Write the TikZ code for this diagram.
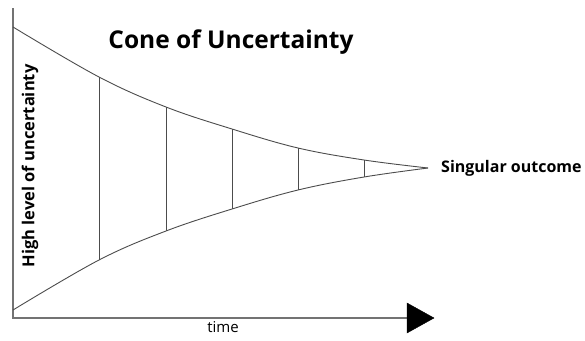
\documentclass[tikz,border=0pt]{standalone}
\usepackage{fontspec}
\setmainfont{Open Sans}
\begin{document}
\begin{tikzpicture}[x=1pt,y=-1pt,
  axisline/.style={draw=black!55,line width=1.4pt},
  coneline/.style={draw=black!70,line width=0.9pt},
  divline/.style={draw=black!70,line width=0.9pt},
  lbl/.style={font=\bfseries\fontsize{16}{18}\selectfont,inner sep=0pt}]
\useasboundingbox (0,0) rectangle (585,340);
% axes
\coordinate (origin) at (13,318);
\coordinate (ytop) at (13,8);
\coordinate (xend) at (408,318);
\draw[axisline] (ytop) -- (origin) -- (xend);
\filldraw[black] (407,303) -- (434,318) -- (407,333) -- cycle;
% cone
\coordinate (apex) at (428,168);
\coordinate (u0) at (13,27);   \coordinate (l0) at (13,310);
\coordinate (u1) at (99,77);   \coordinate (l1) at (99,260);
\coordinate (u2) at (166,107); \coordinate (l2) at (166,231);
\coordinate (u3) at (232,129); \coordinate (l3) at (232,209);
\coordinate (u4) at (298,148); \coordinate (l4) at (298,190);
\coordinate (u5) at (364,160); \coordinate (l5) at (364,177);
\draw[coneline] plot[smooth,tension=0.6] coordinates {(u0) (u1) (u2) (u3) (u4) (u5) (apex)};
\draw[coneline] plot[smooth,tension=0.6] coordinates {(l0) (l1) (l2) (l3) (l4) (l5) (apex)};
\foreach \i in {1,...,5} \draw[divline] (u\i) -- (l\i);
% texts
\node[lbl,font=\bfseries\fontsize{24.5}{28}\selectfont] (title) at (231,42) {Cone of Uncertainty};
\node[lbl,anchor=west] (outcome) at (441,168) {Singular outcome};
\node[lbl,rotate=90,font=\bfseries\fontsize{16.5}{19}\selectfont] (ylab) at (30,166) {High level of uncertainty};
\node[inner sep=0pt,font=\fontsize{15}{17}\selectfont] (time) at (223,327) {time};
\end{tikzpicture}
\end{document}
